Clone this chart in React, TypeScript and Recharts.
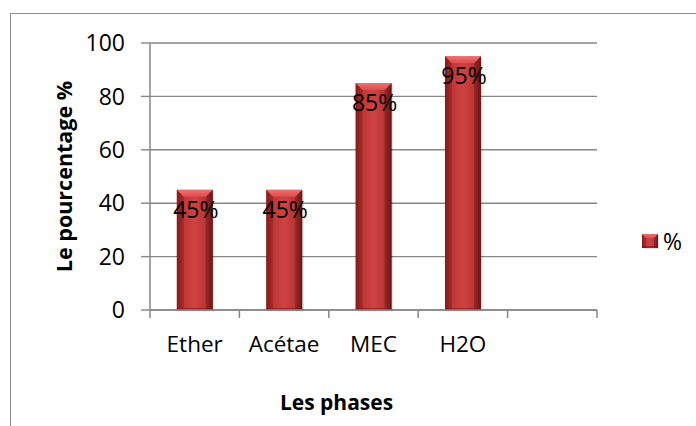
import React from 'react';
import { BarChart, Bar, XAxis, YAxis, CartesianGrid, LabelList, Legend } from 'recharts';

// Extraction yield per solvent phase (%), last slot left empty on the axis
const categories = ['Ether', 'Acétae', 'MEC', 'H2O', ''];
const percentages: (number | null)[] = [45, 45, 85, 95, null];
const yTicks = [0, 20, 40, 60, 80, 100];
const seriesName = '%';
const yTitle = 'Le pourcentage %';
const xTitle = 'Les phases';

const data = categories.map((phase, i) => ({ phase, value: percentages[i] }));

const FONT = '"Open Sans", "Noto Sans", sans-serif';
const AXIS_GRAY = '#878787';

function BevelBar(props: any) {
  const { x, y, width, height } = props;
  if (!height || height <= 0 || !width) return null;
  const b = Math.min(7, width / 4, height / 2);
  return (
    <g>
      <rect x={x + 1.5} y={y + 1.5} width={width} height={height} fill="#000" opacity={0.12} />
      <rect x={x} y={y} width={width} height={height} fill="url(#barBody)" />
      <polygon
        points={`${x},${y} ${x + b},${y + b} ${x + b},${y + height} ${x},${y + height}`}
        fill="#6e1414"
        opacity={0.35}
      />
      <polygon
        points={`${x + width},${y} ${x + width - b},${y + b} ${x + width - b},${y + height} ${x + width},${y + height}`}
        fill="#5a0f0f"
        opacity={0.4}
      />
      <polygon
        points={`${x},${y} ${x + width},${y} ${x + width - b},${y + b} ${x + b},${y + b}`}
        fill="url(#barTop)"
      />
      <rect x={x} y={y + height - 2} width={width} height={2} fill="#6a1313" opacity={0.5} />
    </g>
  );
}

function PercentLabel(props: any) {
  const { x, y, width, value } = props;
  if (value === null || value === undefined) return null;
  return (
    <text
      x={x + width / 2 + 1}
      y={y + 19}
      textAnchor="middle"
      dominantBaseline="central"
      fontFamily={FONT}
      fontSize={23}
      fill="#000"
    >
      {`${value}%`}
    </text>
  );
}

function PhaseTick(props: any) {
  const { x, y, payload, index, visibleTicksCount } = props;
  const half = payload && typeof payload.offset === 'number' && payload.offset > 0 ? payload.offset : 447 / 5 / 2;
  const isLast = index === (visibleTicksCount ?? categories.length) - 1;
  return (
    <g>
      <line x1={x - half} y1={y} x2={x - half} y2={y + 8} stroke={AXIS_GRAY} strokeWidth={1.5} />
      {isLast && (
        <line x1={x + half} y1={y} x2={x + half} y2={y + 8} stroke={AXIS_GRAY} strokeWidth={1.5} />
      )}
      <text x={x} y={y + 42} textAnchor="middle" fontFamily={FONT} fontSize={22.5} fill="#000">
        {payload.value}
      </text>
    </g>
  );
}

function YTitle(props: any) {
  const vb = props.viewBox || { x: 0, y: 43, width: 150, height: 267 };
  const cx = vb.x + 63;
  const cy = vb.y + vb.height / 2;
  return (
    <text
      x={cx}
      y={cy}
      textAnchor="middle"
      dominantBaseline="central"
      transform={`rotate(-90, ${cx}, ${cy})`}
      fontFamily={FONT}
      fontWeight="bold"
      fontSize={21.5}
      fill="#000"
    >
      {yTitle}
    </text>
  );
}

function XTitle(props: any) {
  const vb = props.viewBox || { x: 150, y: 310, width: 447, height: 116 };
  return (
    <text
      x={vb.x + vb.width / 2 - 37}
      y={vb.y + 100}
      textAnchor="middle"
      fontFamily={FONT}
      fontWeight="bold"
      fontSize={21}
      fill="#000"
    >
      {xTitle}
    </text>
  );
}

function LegendBox() {
  return (
    <div style={{ display: 'flex', alignItems: 'center', fontFamily: FONT, fontSize: 23, lineHeight: '23px' }}>
      <svg width={17} height={15} style={{ marginRight: 4 }}>
        <BevelBar x={0} y={0} width={16} height={14} />
      </svg>
      <span style={{ color: '#000' }}>{seriesName}</span>
    </div>
  );
}

export default function App() {
  return (
    <div
      style={{
        position: 'absolute',
        left: 0,
        top: 0,
        width: 696,
        height: 426,
        overflow: 'hidden',
        background: '#fff',
      }}
    >
      <div
        style={{
          position: 'absolute',
          left: 10,
          top: 13,
          width: 720,
          height: 440,
          border: '1px solid #8c8c8c',
          boxSizing: 'border-box',
        }}
      />
      <BarChart
        width={696}
        height={426}
        data={data}
        margin={{ top: 43, right: 99, bottom: 0, left: 0 }}
        barCategoryGap="30%"
        style={{ position: 'absolute', left: 0, top: 0 }}
      >
        <defs>
          <linearGradient id="barBody" x1="0" y1="0" x2="1" y2="0">
            <stop offset="0%" stopColor="#8c2020" />
            <stop offset="15%" stopColor="#bd3535" />
            <stop offset="50%" stopColor="#cf4242" />
            <stop offset="85%" stopColor="#b83232" />
            <stop offset="100%" stopColor="#7a1818" />
          </linearGradient>
          <linearGradient id="barTop" x1="0" y1="0" x2="0" y2="1">
            <stop offset="0%" stopColor="#f07070" />
            <stop offset="100%" stopColor="#dc4c4c" />
          </linearGradient>
        </defs>
        <CartesianGrid vertical={false} stroke={AXIS_GRAY} strokeWidth={1.4} />
        <XAxis
          dataKey="phase"
          height={116}
          interval={0}
          tickSize={0}
          tickMargin={0}
          tickLine={false}
          axisLine={{ stroke: AXIS_GRAY, strokeWidth: 1.5 }}
          tick={<PhaseTick />}
          label={{ content: XTitle }}
        />
        <YAxis
          width={150}
          domain={[0, 100]}
          ticks={yTicks}
          interval={0}
          tickSize={9}
          tickMargin={16}
          tickLine={{ stroke: AXIS_GRAY, strokeWidth: 1.4 }}
          axisLine={{ stroke: AXIS_GRAY, strokeWidth: 1.5 }}
          tick={{ fontFamily: FONT, fontSize: 23, fill: '#000' }}
          label={{ content: YTitle }}
        />
        <Legend
          align="center"
          verticalAlign="middle"
          layout="horizontal"
          wrapperStyle={{ left: 642, top: 230, width: 'auto', height: 'auto' }}
          content={() => <LegendBox />}
        />
        <Bar dataKey="value" name={seriesName} shape={<BevelBar />} isAnimationActive={false}>
          <LabelList dataKey="value" content={PercentLabel} />
        </Bar>
      </BarChart>
    </div>
  );
}
